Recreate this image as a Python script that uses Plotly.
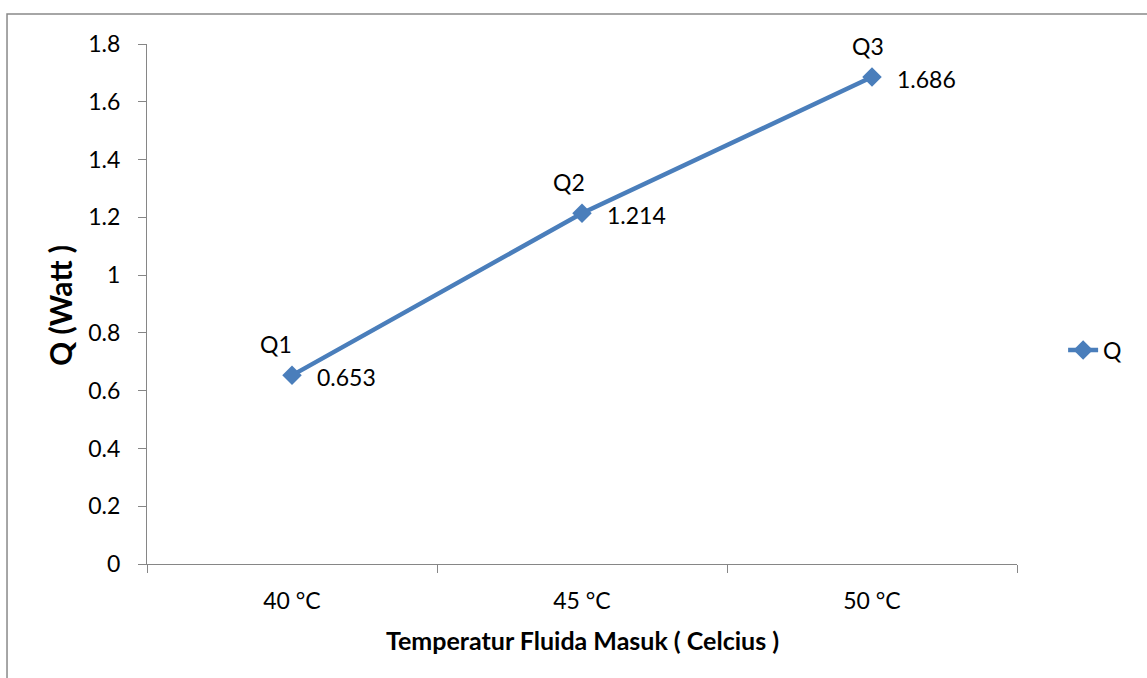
import plotly.graph_objects as go

categories = ["40 °C", "45 °C", "50 °C"]
q_values = [0.653, 1.214, 1.686]
point_names = ["Q1", "Q2", "Q3"]
series_name = "Q"
y_ticks = [0, 0.2, 0.4, 0.6, 0.8, 1, 1.2, 1.4, 1.6, 1.8]
y_tick_text = ["0", "0.2", "0.4", "0.6", "0.8", "1", "1.2", "1.4", "1.6", "1.8"]
x_title = "Temperatur Fluida Masuk ( Celcius )"
y_title = "Q (Watt )"

FONT = "Lato, Calibri, Carlito, sans-serif"
BLUE = "#4A7EBB"
AXIS = "#868686"
FS = 23

fig = go.Figure()
fig.add_trace(go.Scatter(
    x=categories, y=q_values, name=series_name, mode="lines+markers",
    line=dict(color=BLUE, width=4.5),
    marker=dict(symbol="diamond", size=15, color=BLUE),
))

name_dx = [-16, -13, -4]
annotations = []
for i, (c, v, n) in enumerate(zip(categories, q_values, point_names)):
    annotations.append(dict(x=c, y=v, xref="x", yref="y", text=n, showarrow=False,
                            xanchor="center", yanchor="middle", xshift=name_dx[i], yshift=31,
                            font=dict(family=FONT, size=FS, color="#000")))
    annotations.append(dict(x=c, y=v, xref="x", yref="y", text=f"{v:.3f}", showarrow=False,
                            xanchor="left", yanchor="middle", xshift=23, yshift=-2,
                            font=dict(family=FONT, size=FS, color="#000")))

annotations.append(dict(x=0.5, y=-0.146, xref="paper", yref="paper", text=f"<b>{x_title}</b>",
                        showarrow=False, xanchor="center", yanchor="middle",
                        font=dict(family=FONT, size=25, color="#000")))
annotations.append(dict(x=-0.1, y=0.496, xref="paper", yref="paper", text=f"<b>{y_title}</b>",
                        showarrow=False, xanchor="center", yanchor="middle", textangle=-90,
                        font=dict(family=FONT, size=30, color="#000")))

fig.update_layout(
    width=1147, height=678,
    margin=dict(l=147, r=130, t=44, b=114),
    paper_bgcolor="white", plot_bgcolor="white",
    font=dict(family=FONT, size=FS, color="#000"),
    showlegend=True,
    legend=dict(x=1.053, y=0.4115, xanchor="left", yanchor="middle",
                font=dict(family=FONT, size=FS, color="#000"), bgcolor="rgba(0,0,0,0)"),
    annotations=annotations,
    shapes=[dict(type="rect", xref="paper", yref="paper", x0=-0.1609, y0=1.0577, x1=1.2, y1=-0.3,
                 line=dict(color="#898989", width=1.5), fillcolor="rgba(0,0,0,0)", layer="below")],
)
fig.update_xaxes(type="category", range=[-0.5, 2.5], tickson="boundaries", ticks="outside",
                 ticklen=8, tickcolor=AXIS, tickwidth=1.3, showline=True, linecolor=AXIS, linewidth=1.3,
                 showgrid=False, zeroline=False, ticklabelstandoff=16,
                 tickfont=dict(family=FONT, size=FS, color="#000"))
fig.update_yaxes(range=[0, 1.8], tickvals=y_ticks, ticktext=y_tick_text, ticks="outside",
                 ticklen=8, tickcolor=AXIS, tickwidth=1.3, showline=True, linecolor=AXIS, linewidth=1.3,
                 showgrid=False, zeroline=False, ticklabelstandoff=13,
                 tickfont=dict(family=FONT, size=FS, color="#000"))

fig.write_html("out.html")
